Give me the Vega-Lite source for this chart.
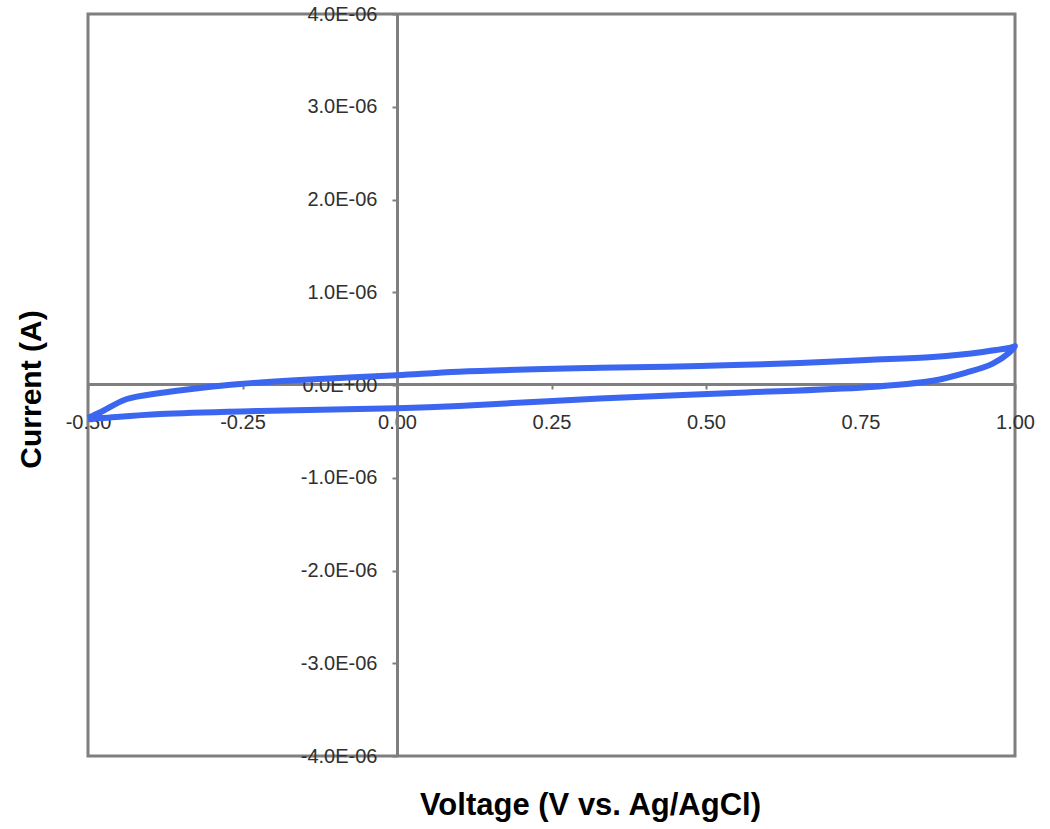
{
  "$schema": "https://vega.github.io/schema/vega-lite/v6.json",
  "width": 927,
  "height": 742,
  "autosize": {"type": "none"},
  "padding": {"left": 88, "top": 14, "right": 35, "bottom": 73},
  "background": "white",
  "config": {
    "view": {"stroke": "#7f7f7f", "strokeWidth": 3},
    "font": "Liberation Sans"
  },
  "data": {
    "values": [
      {"idx": 0, "v": -0.5, "i": -3.67e-7},
      {"idx": 1, "v": -0.476, "i": -3.56e-7},
      {"idx": 2, "v": -0.383, "i": -3.13e-7},
      {"idx": 3, "v": -0.222, "i": -2.8e-7},
      {"idx": 4, "v": 0.0, "i": -2.5e-7},
      {"idx": 5, "v": 0.1, "i": -2.26e-7},
      {"idx": 6, "v": 0.328, "i": -1.46e-7},
      {"idx": 7, "v": 0.544, "i": -8.6e-8},
      {"idx": 8, "v": 0.76, "i": -2.5e-8},
      {"idx": 9, "v": 0.867, "i": 4.5e-8},
      {"idx": 10, "v": 0.922, "i": 1.35e-7},
      {"idx": 11, "v": 0.964, "i": 2.3e-7},
      {"idx": 12, "v": 0.99, "i": 3.45e-7},
      {"idx": 13, "v": 1.0, "i": 4.2e-7},
      {"idx": 14, "v": 0.997, "i": 4.1e-7},
      {"idx": 15, "v": 0.948, "i": 3.56e-7},
      {"idx": 16, "v": 0.867, "i": 3.02e-7},
      {"idx": 17, "v": 0.76, "i": 2.7e-7},
      {"idx": 18, "v": 0.652, "i": 2.37e-7},
      {"idx": 19, "v": 0.49, "i": 2.05e-7},
      {"idx": 20, "v": 0.328, "i": 1.85e-7},
      {"idx": 21, "v": 0.1, "i": 1.43e-7},
      {"idx": 22, "v": 0.0, "i": 1.05e-7},
      {"idx": 23, "v": -0.157, "i": 5.4e-8},
      {"idx": 24, "v": -0.254, "i": 1.1e-8},
      {"idx": 25, "v": -0.319, "i": -3.2e-8},
      {"idx": 26, "v": -0.383, "i": -8.6e-8},
      {"idx": 27, "v": -0.437, "i": -1.51e-7},
      {"idx": 28, "v": -0.476, "i": -2.8e-7},
      {"idx": 29, "v": -0.5, "i": -3.56e-7}
    ]
  },
  "mark": {"type": "line", "color": "#3a66f0", "strokeWidth": 6, "interpolate": "catmull-rom"},
  "encoding": {
    "order": {"field": "idx", "type": "quantitative"},
    "x": {
      "field": "v",
      "type": "quantitative",
      "scale": {"domain": [-0.5, 1.0], "nice": false, "zero": false},
      "axis": {
        "values": [-0.5, -0.25, 0, 0.25, 0.5, 0.75, 1.0],
        "offset": -372,
        "grid": false,
        "domainColor": "#7f7f7f",
        "domainWidth": 3,
        "tickColor": "#7f7f7f",
        "tickWidth": 2,
        "tickSize": 5,
        "labelPadding": 23,
        "labelFontSize": 20,
        "labelColor": "#303030",
        "labelFlush": false,
        "labelOverlap": false,
        "labelExpr": "(datum.value < 0 ? '-' : '') + format(abs(datum.value), '.2f')",
        "title": "Voltage (V vs. Ag/AgCl)",
        "titleFontSize": 31,
        "titleFontWeight": "bold",
        "titleColor": "#000000",
        "titleX": 502,
        "titleY": 430,
        "titleAlign": "center",
        "titleBaseline": "alphabetic"
      }
    },
    "y": {
      "field": "i",
      "type": "quantitative",
      "scale": {"domain": [-4e-6, 4e-6], "nice": false},
      "axis": {
        "values": [-4e-6, -3e-6, -2e-6, -1e-6, 0, 1e-6, 2e-6, 3e-6, 4e-6],
        "offset": -309,
        "grid": false,
        "domainColor": "#7f7f7f",
        "domainWidth": 3,
        "tickColor": "#7f7f7f",
        "tickWidth": 2,
        "tickSize": 5,
        "labelPadding": 15,
        "labelFontSize": 20,
        "labelColor": "#303030",
        "labelFlush": false,
        "labelOverlap": false,
        "labelExpr": "datum.value == 0 ? '0.0E+00' : (datum.value < 0 ? '-' : '') + format(abs(datum.value) * 1e6, '.1f') + 'E-06'",
        "title": "Current (A)",
        "titleFontSize": 30,
        "titleFontWeight": "bold",
        "titleColor": "#000000",
        "titleX": -357,
        "titleY": 375,
        "titleAngle": -90,
        "titleAlign": "center",
        "titleBaseline": "alphabetic"
      }
    }
  }
}
